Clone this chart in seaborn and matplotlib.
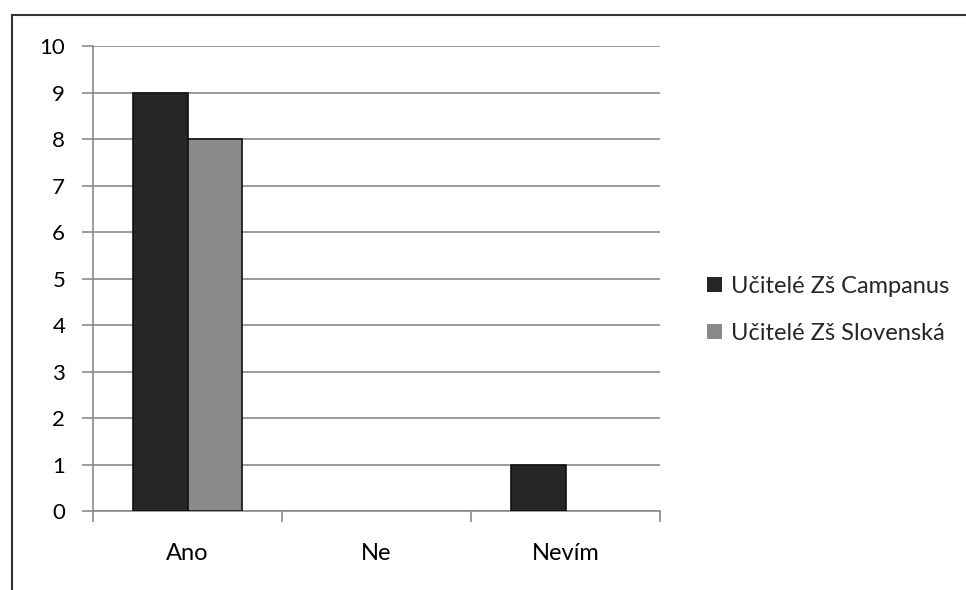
import matplotlib
matplotlib.use("Agg")
import matplotlib.pyplot as plt
import matplotlib.patches as mpatches
import pandas as pd
import seaborn as sns

# Odpovedi ucitelu
categories = ["Ano", "Ne", "Nevím"]
series_names = ["Učitelé Zš Campanus", "Učitelé Zš Slovenská"]
campanus = [9, 0, 1]
slovenska = [8, 0, 0]
y_ticks = list(range(0, 11))

df = pd.DataFrame({
    "odpoved": categories * 2,
    "skupina": [series_names[0]] * 3 + [series_names[1]] * 3,
    "pocet": campanus + slovenska,
})

sns.set_theme(style="white")
plt.rcParams['font.family'] = ['Lato', 'DejaVu Sans']

fig = plt.figure(figsize=(9.66, 5.90), dpi=100)
ax = fig.add_axes([0.0963, 0.1339, 0.587, 0.788])

sns.barplot(data=df, x="odpoved", y="pocet", hue="skupina", order=categories,
            hue_order=series_names, palette=["#262626", "#8a8a8a"],
            width=0.58, edgecolor="#111111", linewidth=1.2, ax=ax, zorder=3)

# no outline on empty bars
for p in ax.patches:
    if p.get_height() == 0:
        p.set_linewidth(0)

ax.set_ylim(0, 10)
ax.set_xlim(-0.5, 2.5)
ax.set_yticks(y_ticks)
ax.set_xlabel("")
ax.set_ylabel("")
ax.yaxis.grid(True, color="#8a8a8a", linewidth=1.2, zorder=0)
ax.set_axisbelow(True)

# spines and ticks like the old office chart
for s in ["top", "right"]:
    ax.spines[s].set_visible(False)
for s in ["left", "bottom"]:
    ax.spines[s].set_color("#8a8a8a")
    ax.spines[s].set_linewidth(1.2)
ax.tick_params(axis="y", length=8, width=1.2, color="#8a8a8a", pad=12,
               labelsize=16, labelcolor="#000000", direction="out", left=True)
ax.set_xticks([-0.5, 0.5, 1.5, 2.5], minor=True)
ax.tick_params(axis="x", which="minor", length=8, width=1.2, color="#8a8a8a",
               direction="out", bottom=True)
ax.tick_params(axis="x", which="major", length=0, pad=23, labelsize=17,
               labelcolor="#000000")

handles, labels = ax.get_legend_handles_labels()
leg = fig.legend(handles, labels, loc="center left", bbox_to_anchor=(0.71, 0.475),
                 frameon=False, fontsize=17, handlelength=0.65, handleheight=0.65,
                 handletextpad=0.35, labelspacing=1.1)
ax.legend_.remove()

# chart border from the scanned page
fig.patches.append(mpatches.Rectangle((0.0124, -0.05), 1.1, 1.0246, transform=fig.transFigure,
                                      fill=False, edgecolor="#333333", linewidth=1.5))

fig.savefig("out.png", dpi=100)
